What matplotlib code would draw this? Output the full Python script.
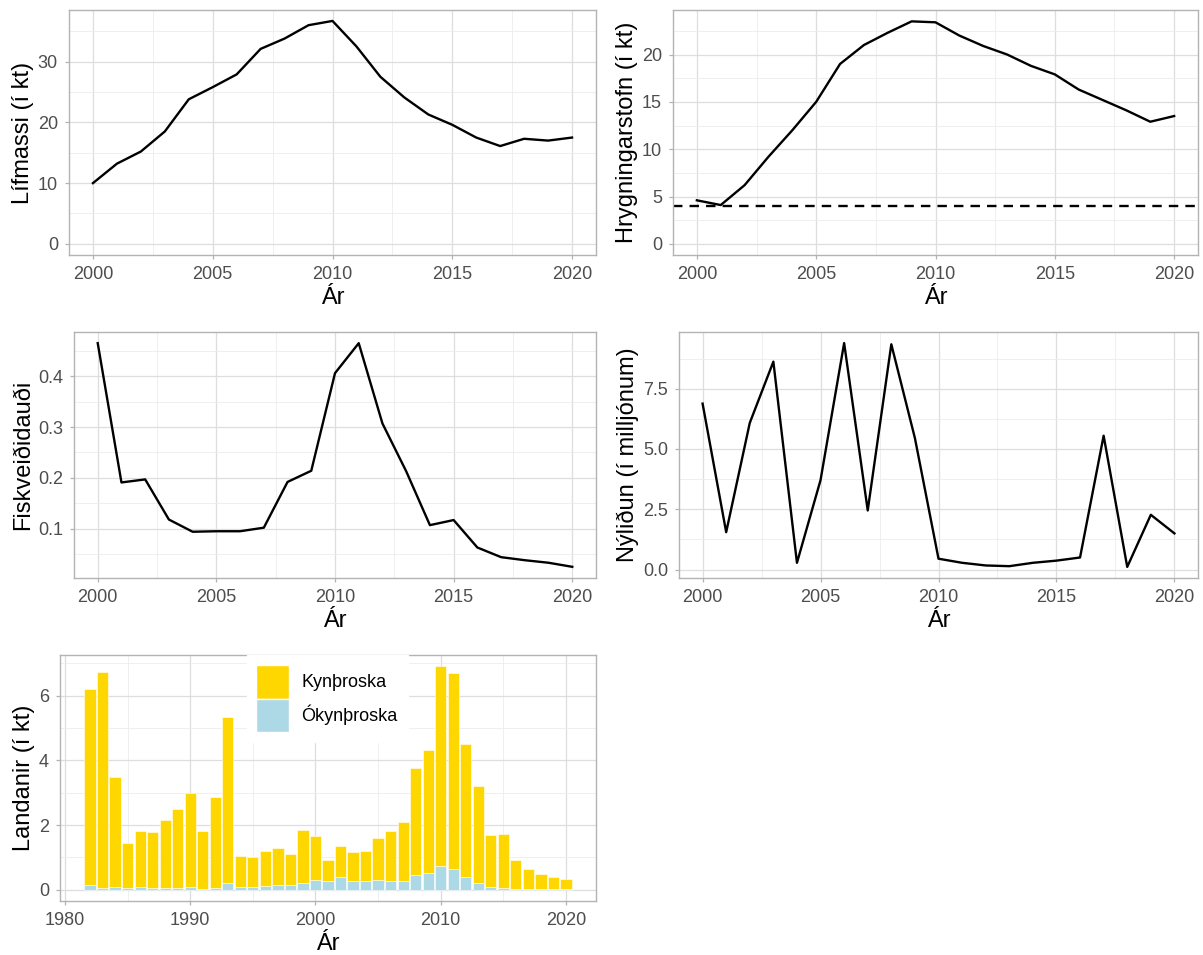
import numpy as np
import matplotlib
matplotlib.use("Agg")
import matplotlib.pyplot as plt
from matplotlib.patches import Patch

plt.rcParams['font.family'] = ['Liberation Sans', 'DejaVu Sans']

ar = list(range(2000, 2021))
lifmassi = [10.0, 13.2, 15.2, 18.5, 23.8, 25.8, 27.9, 32.1, 33.8, 36.0, 36.7,
            32.5, 27.5, 24.1, 21.3, 19.6, 17.5, 16.1, 17.3, 17.0, 17.5]
hrygning = [4.6, 4.1, 6.2, 9.2, 12.0, 15.0, 19.0, 21.0, 22.3, 23.5, 23.4,
            22.0, 20.9, 20.0, 18.8, 17.9, 16.3, 15.2, 14.1, 12.9, 13.5]
bpa = 4.0
fiskv = [0.465, 0.191, 0.197, 0.118, 0.094, 0.095, 0.095, 0.102, 0.192, 0.214, 0.406,
         0.465, 0.307, 0.213, 0.107, 0.117, 0.063, 0.044, 0.038, 0.033, 0.025]
nylidun = [6.88, 1.55, 6.08, 8.62, 0.28, 3.71, 9.39, 2.45, 9.34, 5.45, 0.45,
           0.28, 0.17, 0.14, 0.28, 0.37, 0.50, 5.55, 0.11, 2.27, 1.50]

ar_land = list(range(1982, 2021))
land_alls = [6.22, 6.72, 3.50, 1.45, 1.83, 1.77, 2.16, 2.50, 3.00, 1.81,
             2.87, 5.34, 1.05, 1.02, 1.19, 1.29, 1.11, 1.86, 1.66, 0.92,
             1.36, 1.16, 1.19, 1.59, 1.83, 2.08, 3.75, 4.31, 6.91, 6.69,
             4.50, 3.21, 1.68, 1.73, 0.92, 0.63, 0.49, 0.40, 0.33]
land_okyn = [0.13, 0.05, 0.08, 0.05, 0.08, 0.06, 0.06, 0.06, 0.08, 0.02,
             0.05, 0.20, 0.08, 0.08, 0.11, 0.15, 0.15, 0.22, 0.31, 0.28,
             0.39, 0.26, 0.26, 0.31, 0.27, 0.27, 0.46, 0.51, 0.74, 0.63,
             0.40, 0.20, 0.08, 0.05, 0.02, 0.02, 0.01, 0.01, 0.01]
land_kyn = [a - o for a, o in zip(land_alls, land_okyn)]

W, H = 1203, 955
fig = plt.figure(figsize=(W / 100, H / 100), dpi=100)


def make_ax(l, t, r, b):
    return fig.add_axes([l / W, 1 - b / H, (r - l) / W, (b - t) / H])


def style(ax, xmaj, xmin, ymaj, ymin, ylabel, yfmt=None):
    ax.set_xticks(xmaj)
    ax.set_xticks(xmin, minor=True)
    ax.set_yticks(ymaj)
    ax.set_yticks(ymin, minor=True)
    if yfmt:
        ax.set_yticklabels([yfmt.format(v) for v in ymaj])
    ax.grid(True, which='major', color='#dedede', lw=0.9)
    ax.grid(True, which='minor', color='#ececec', lw=0.6)
    ax.set_axisbelow(True)
    for s in ax.spines.values():
        s.set_color('#b3b3b3')
        s.set_linewidth(1.0)
    ax.tick_params(which='major', colors='#b3b3b3', labelcolor='#4d4d4d',
                   labelsize=13, length=3, width=0.9, pad=5)
    ax.tick_params(which='minor', length=0)
    ax.set_xlabel('Ár', fontsize=17, labelpad=3)
    ax.set_ylabel(ylabel, fontsize=17, labelpad=3)


yrs_maj = [2000, 2005, 2010, 2015, 2020]
yrs_min = [2002.5, 2007.5, 2012.5, 2017.5]

ax1 = make_ax(69, 10, 596, 255)
ax1.plot(ar, lifmassi, color='black', lw=1.7)
ax1.set_xlim(1999, 2021)
ax1.set_ylim(-1.835, 38.5)
style(ax1, yrs_maj, yrs_min, [0, 10, 20, 30], [5, 15, 25, 35], 'Lífmassi (í kt)')

ax2 = make_ax(673, 10, 1198, 255)
ax2.plot(ar, hrygning, color='black', lw=1.7)
ax2.axhline(bpa, color='black', lw=1.7, ls=(0, (4, 3)))
ax2.set_xlim(1999, 2021)
ax2.set_ylim(-1.175, 24.7)
style(ax2, yrs_maj, yrs_min, [0, 5, 10, 15, 20], [2.5, 7.5, 12.5, 17.5, 22.5],
      'Hrygningarstofn (í kt)')

ax3 = make_ax(74, 332, 596, 578)
ax3.plot(ar, fiskv, color='black', lw=1.7)
ax3.set_xlim(1999, 2021)
ax3.set_ylim(0.003, 0.487)
style(ax3, yrs_maj, yrs_min, [0.1, 0.2, 0.3, 0.4], [0.05, 0.15, 0.25, 0.35, 0.45],
      'Fiskveiðidauði')

ax4 = make_ax(679, 332, 1198, 578)
ax4.plot(ar, nylidun, color='black', lw=1.7)
ax4.set_xlim(1999, 2021)
ax4.set_ylim(-0.35, 9.85)
style(ax4, yrs_maj, yrs_min, [0, 2.5, 5, 7.5], [1.25, 3.75, 6.25, 8.75],
      'Nýliðun (í milljónum)', yfmt='{:.1f}')

ax5 = make_ax(60, 655, 596, 901)
ax5.bar(ar_land, land_okyn, width=0.9, color='#ADD8E6', edgecolor='white', lw=0.4)
ax5.bar(ar_land, land_kyn, width=0.9, bottom=land_okyn, color='#FFD700',
        edgecolor='white', lw=0.4)
ax5.set_xlim(1979.6, 2022.4)
ax5.set_ylim(-0.35, 7.26)
style(ax5, [1980, 1990, 2000, 2010, 2020], [1985, 1995, 2005, 2015],
      [0, 2, 4, 6], [1, 3, 5, 7], 'Landanir (í kt)')
handles = [Patch(facecolor='#FFD700', edgecolor='white', lw=1.0),
           Patch(facecolor='#ADD8E6', edgecolor='white', lw=1.0)]
leg = ax5.legend(handles, ['Kynþroska', 'Ókynþroska'], loc='upper left',
                 bbox_to_anchor=(0.348, 1.0), frameon=True, fontsize=13,
                 handlelength=1.78, handleheight=2.5, handletextpad=0.72,
                 labelspacing=0.0, borderpad=0.55, borderaxespad=0.0, fancybox=False)
leg.get_frame().set_edgecolor('white')
leg.get_frame().set_facecolor('white')
leg.get_frame().set_alpha(1.0)

fig.savefig('out.png', dpi=100)
